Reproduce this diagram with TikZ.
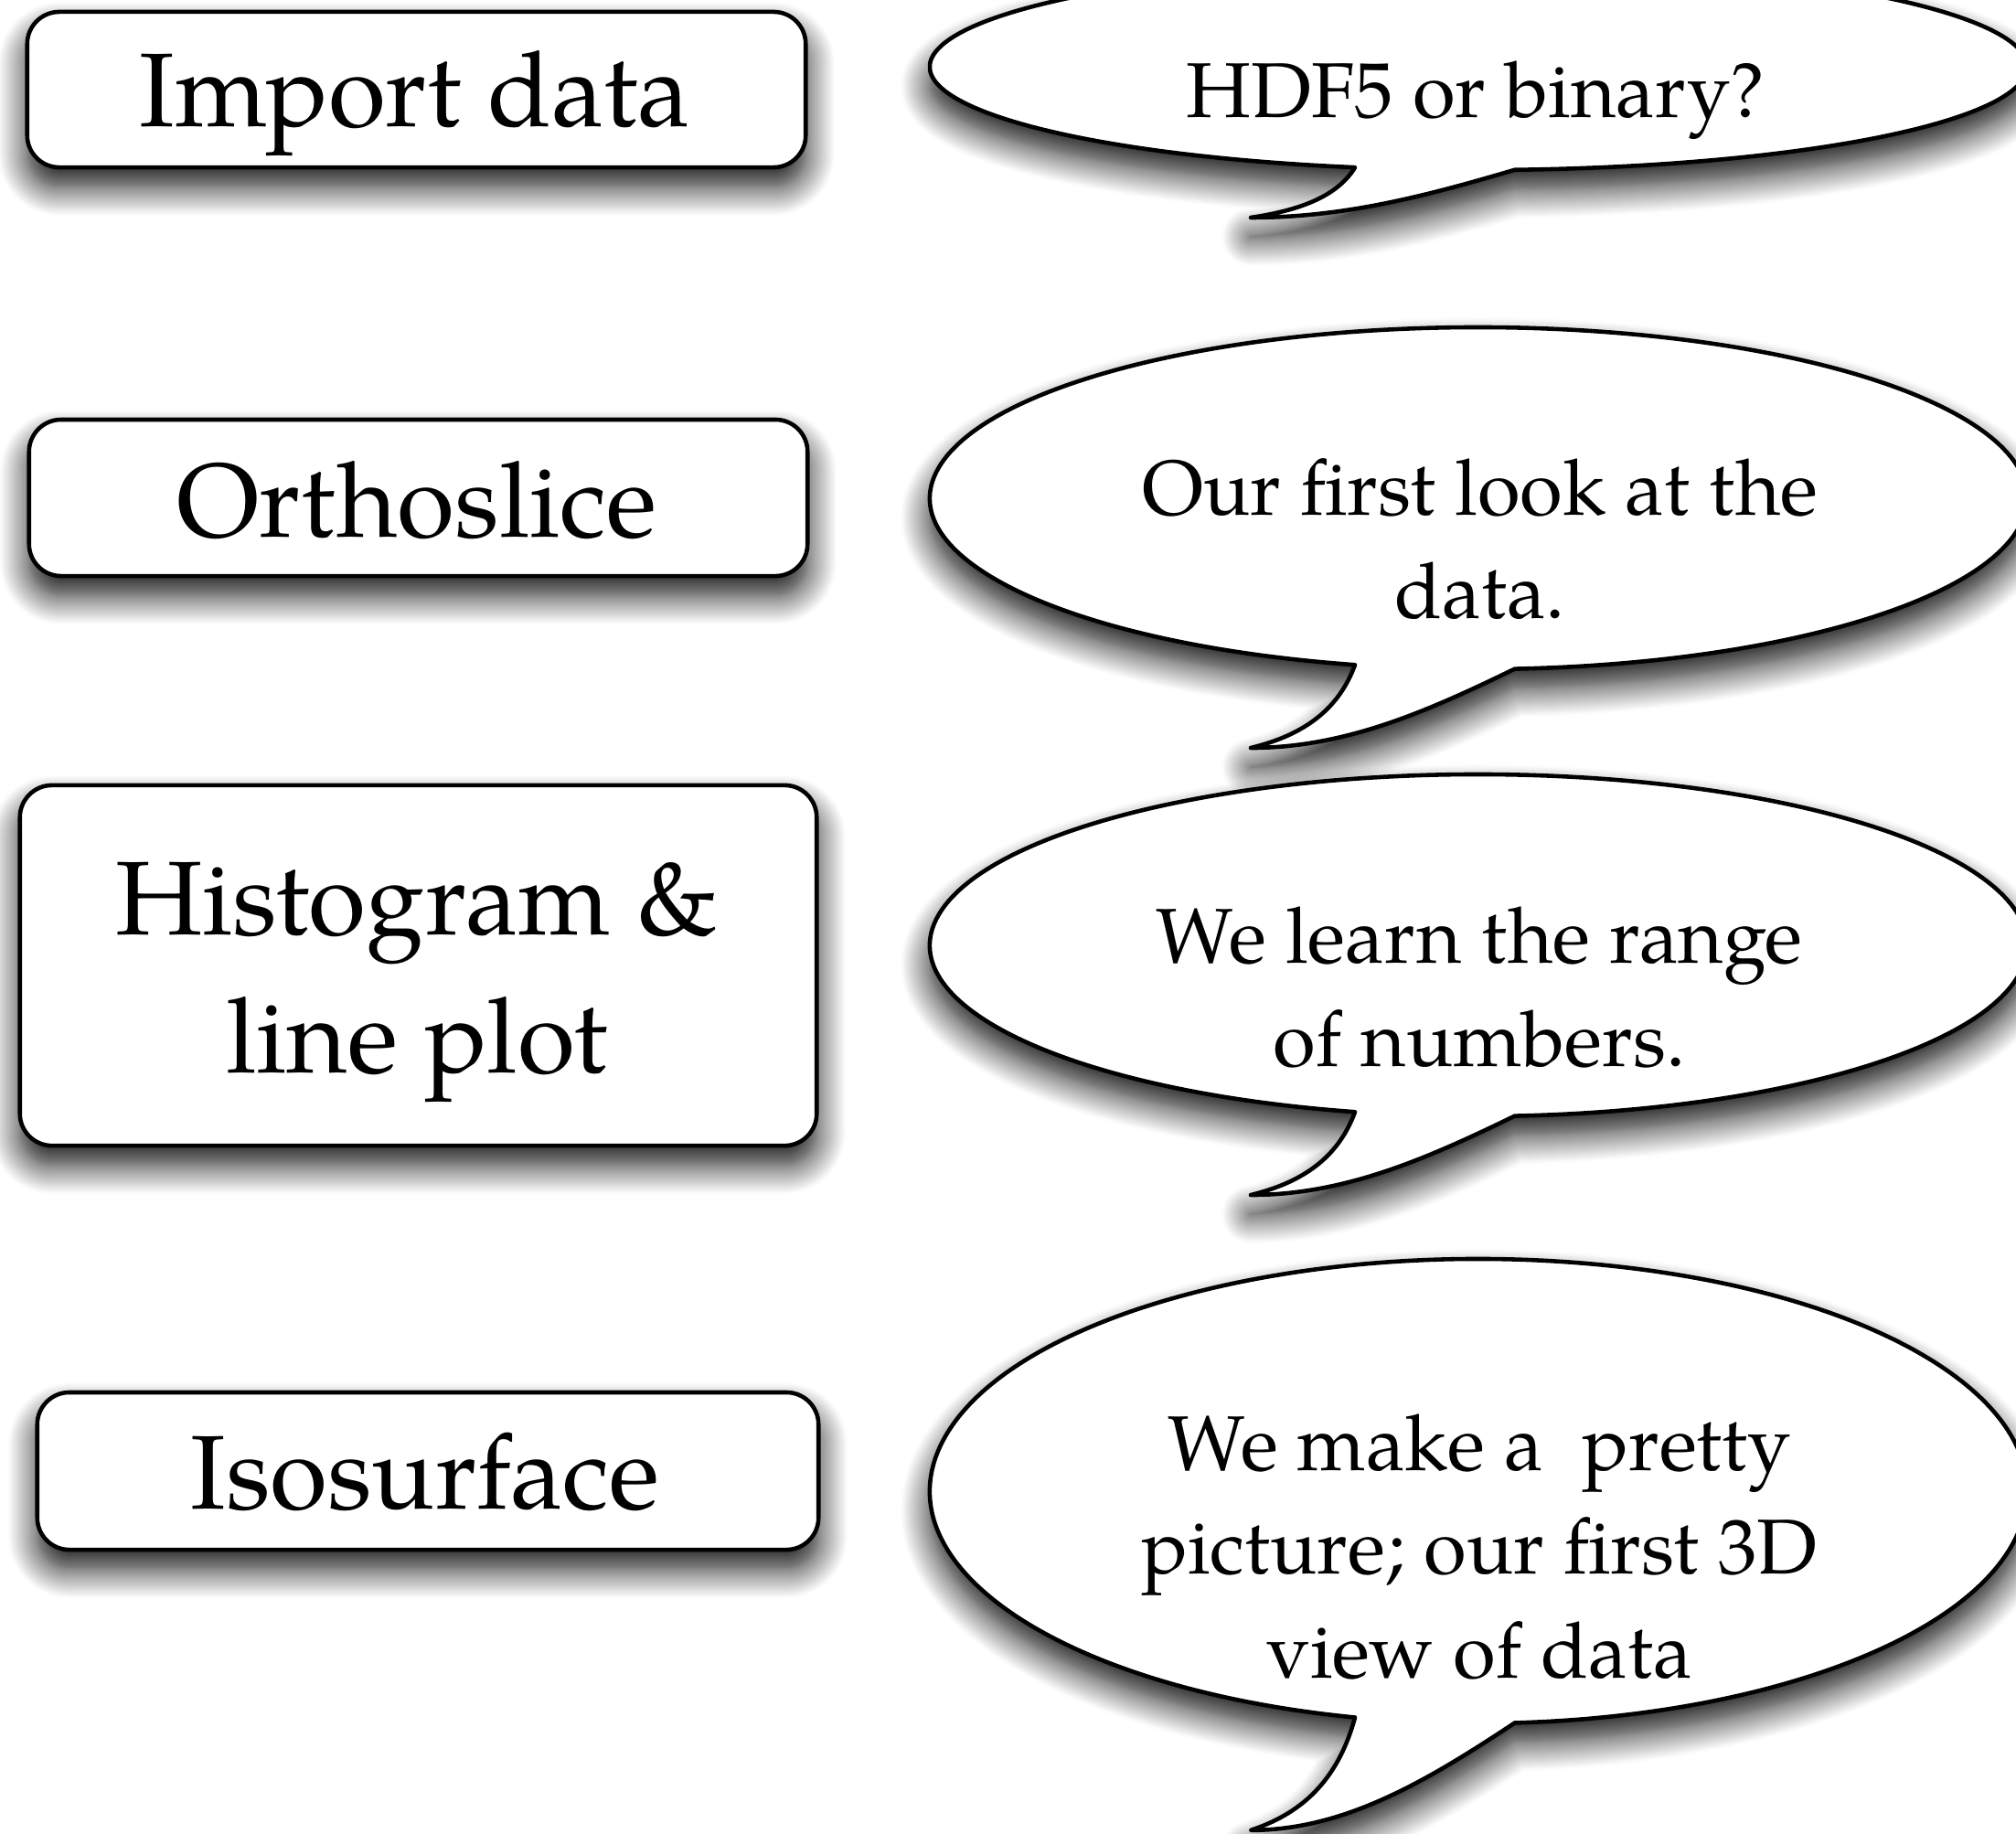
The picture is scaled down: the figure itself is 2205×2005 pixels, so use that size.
\documentclass[tikz,border=0pt]{standalone}
\usepackage{fontspec}
\setmainfont{texgyrepagella}[Extension=.otf, UprightFont=*-regular, BoldFont=*-bold, ItalicFont=*-italic, BoldItalicFont=*-bolditalic]
\usetikzlibrary{shadows.blur}
\tikzset{
  softshadow/.style={blur shadow={shadow xshift=0pt, shadow yshift=-6pt, shadow blur radius=9pt, shadow blur steps=16, shadow opacity=95}},
  stepbox/.style={rectangle, draw=black, fill=white, line width=1.3pt, rounded corners=10pt, inner sep=0pt, outer sep=0pt, softshadow},
  bubble/.style={draw=black, fill=white, line width=1.3pt, line join=round, softshadow},
  boxtext/.style={font=\fontsize{32.6}{43}\selectfont, inner sep=0pt, anchor=base},
  bubbletext/.style={font=\fontsize{24.2}{32.4}\selectfont, inner sep=0pt, anchor=base}
}
\newcommand\speechbubble[2]{% #1 = centre y (px), #2 = vertical radius (px)
  \path[bubble] ({1617+600*cos(103)},{#1+#2*sin(103)})
    arc[start angle=103, end angle=446.2, x radius=600, y radius=#2]
    .. controls (1560,{#1+1.25*#2}) and (1470,{#1+1.46*#2}) .. (1368,{#1+1.46*#2})
    .. controls (1430,{#1+1.38*#2}) and (1465,{#1+1.22*#2}) .. ({1617+600*cos(103)},{#1+#2*sin(103)})
    -- cycle;
}
\begin{document}
\begin{tikzpicture}[x=0.01cm, y=-0.01cm]
  \useasboundingbox (0,0) rectangle (2205,2005);
  \clip (0,0) rectangle (2205,2005);

  % left boxes
  \node[stepbox, minimum width=8.51cm, minimum height=1.70cm] (b1) at (455.5,98) {};
  \node[stepbox, minimum width=8.51cm, minimum height=1.71cm] (b2) at (457.5,544.5) {};
  \node[stepbox, minimum width=8.71cm, minimum height=3.94cm] (b3) at (457.5,1056) {};
  \node[stepbox, minimum width=8.54cm, minimum height=1.72cm] (b4) at (468,1609) {};

  \node[boxtext] (t1) at (454,138) {Import data};
  \node[boxtext] (t2) at (456,587) {Orthoslice};
  \node[boxtext] (t3) at (456,1022) {\begin{tabular}[t]{@{}c@{}}Histogram \&\\line plot\end{tabular}};
  \node[boxtext] (t4) at (465,1650) {Isosurface};

  % speech bubbles
  \speechbubble{73}{113}
  \speechbubble{545}{187}
  \speechbubble{1034}{187}
  \speechbubble{1631}{254}

  \node[bubbletext] (s1) at (1614,128) {HDF5 or binary?};
  \node[bubbletext] (s2) at (1619,563) {\begin{tabular}[t]{@{}c@{}}Our first look at the\\data.\end{tabular}};
  \node[bubbletext] (s3) at (1618,1053) {\begin{tabular}[t]{@{}c@{}}We learn the range\\of numbers.\end{tabular}};
  \node[bubbletext] (s4) at (1618,1608) {\begin{tabular}[t]{@{}c@{}}We make a\ \ pretty\\picture; our first 3D\\view of data\end{tabular}};
\end{tikzpicture}
\end{document}
